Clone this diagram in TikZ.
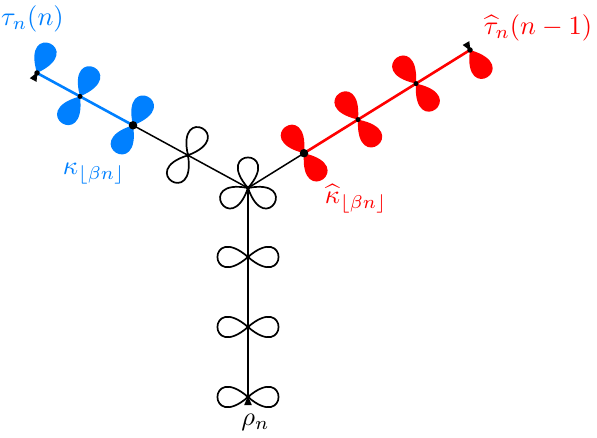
\documentclass[tikz,border=0pt]{standalone}
\definecolor{tblue}{RGB}{0,128,255}
\definecolor{tred}{RGB}{255,0,0}
\newcommand{\bigtxt}[1]{\scalebox{2.65}{#1}}
\begin{document}
\begin{tikzpicture}[x=1pt,y=1pt,
  dot/.style={circle,fill=black,inner sep=0pt,minimum size=#1},
  dot/.default=4pt,
  blk/.style={line width=1.5pt,black},
  bedge/.style={line width=2.6pt,tblue},
  redge/.style={line width=2.6pt,tred},
  bpet/.style={draw=black,line width=1.7pt},
  cpet/.style={fill=#1},
  lab/.style={inner sep=0pt}]
\useasboundingbox (0,0) rectangle (597,437);
% vertices
\coordinate (c)  at (248,249);
\coordinate (l4) at (188,281.7);
\coordinate (l3) at (133,311.7);
\coordinate (l2) at (80,340.6);
\coordinate (l1) at (37,364);
\coordinate (r1) at (304,283.8);
\coordinate (r2) at (358,317.4);
\coordinate (r3) at (416,353.4);
\coordinate (r4) at (470,387);
\coordinate (v1) at (248,180);
\coordinate (v2) at (248,110);
\coordinate (v3) at (248,40);
% black petals
\foreach \v/\a in {c/90,c/210,c/330,l4/62,l4/238,v1/0,v1/180,v2/0,v2/180,v3/0,v3/180}
  \draw[bpet] (\v) .. controls +(\a+41:54) and +(\a-41:54) .. (\v);
% blue petals
\foreach \v/\a in {l3/62,l3/238,l2/64,l2/236,l1/66}
  \path[cpet=tblue] (\v) .. controls +(\a+41:57) and +(\a-41:57) .. (\v);
% red petals
\foreach \v/\a in {r1/125,r1/306,r2/126,r2/308,r3/127,r3/307,r4/303}
  \path[cpet=tred] (\v) .. controls +(\a+41:57) and +(\a-41:57) .. (\v);
% edges
\draw[blk] (c) -- (l4) -- (l3);
\draw[bedge] (l3) -- (l2) -- (l1);
\draw[blk] (c) -- (r1);
\draw[redge] (r1) -- (r2) -- (r3) -- (r4);
\draw[blk] (c) -- (v1) -- (v2) -- (v3);
% dots
\node[dot=4pt] (cD) at (c) {};
\node[dot=4pt] (l4D) at (l4) {};
\node[dot=8.5pt] (l3D) at (l3) {};
\node[dot=5pt] (l2D) at (l2) {};
\node[dot=5.5pt] (l1D) at (l1) {};
\node[dot=8.5pt] (r1D) at (r1) {};
\node[dot=5pt] (r2D) at (r2) {};
\node[dot=5pt] (r3D) at (r3) {};
\node[dot=5.5pt] (r4D) at (r4) {};
\node[dot=4pt] (v1D) at (v1) {};
\node[dot=4pt] (v2D) at (v2) {};
\node[dot=4.5pt] (v3D) at (v3) {};
% root markers
\fill[shift={(v3)},rotate=90] (1,0) -- (-8,3.8) -- (-8,-3.8) -- cycle;
\fill[shift={(l1)},rotate=61.4] (1,0) -- (-8,3.8) -- (-8,-3.8) -- cycle;
\fill[shift={(r4)},rotate=-60] (1,0) -- (-8,3.8) -- (-8,-3.8) -- cycle;
% labels
\node[lab,text=tblue] (tl) at (32.5,418.5) {\bigtxt{$\tau_n(n)$}};
\node[lab,text=tblue] (kl) at (94,263) {\bigtxt{$\kappa_{\lfloor\beta n\rfloor}$}};
\node[lab,text=tred] (khl) at (356,238.5) {\bigtxt{$\widehat{\kappa}_{\lfloor\beta n\rfloor}$}};
\node[lab,text=tred] (thl) at (538,409) {\bigtxt{$\widehat{\tau}_n(n-1)$}};
\node[lab] (rl) at (255.5,15) {\bigtxt{$\rho_n$}};
\end{tikzpicture}
\end{document}
